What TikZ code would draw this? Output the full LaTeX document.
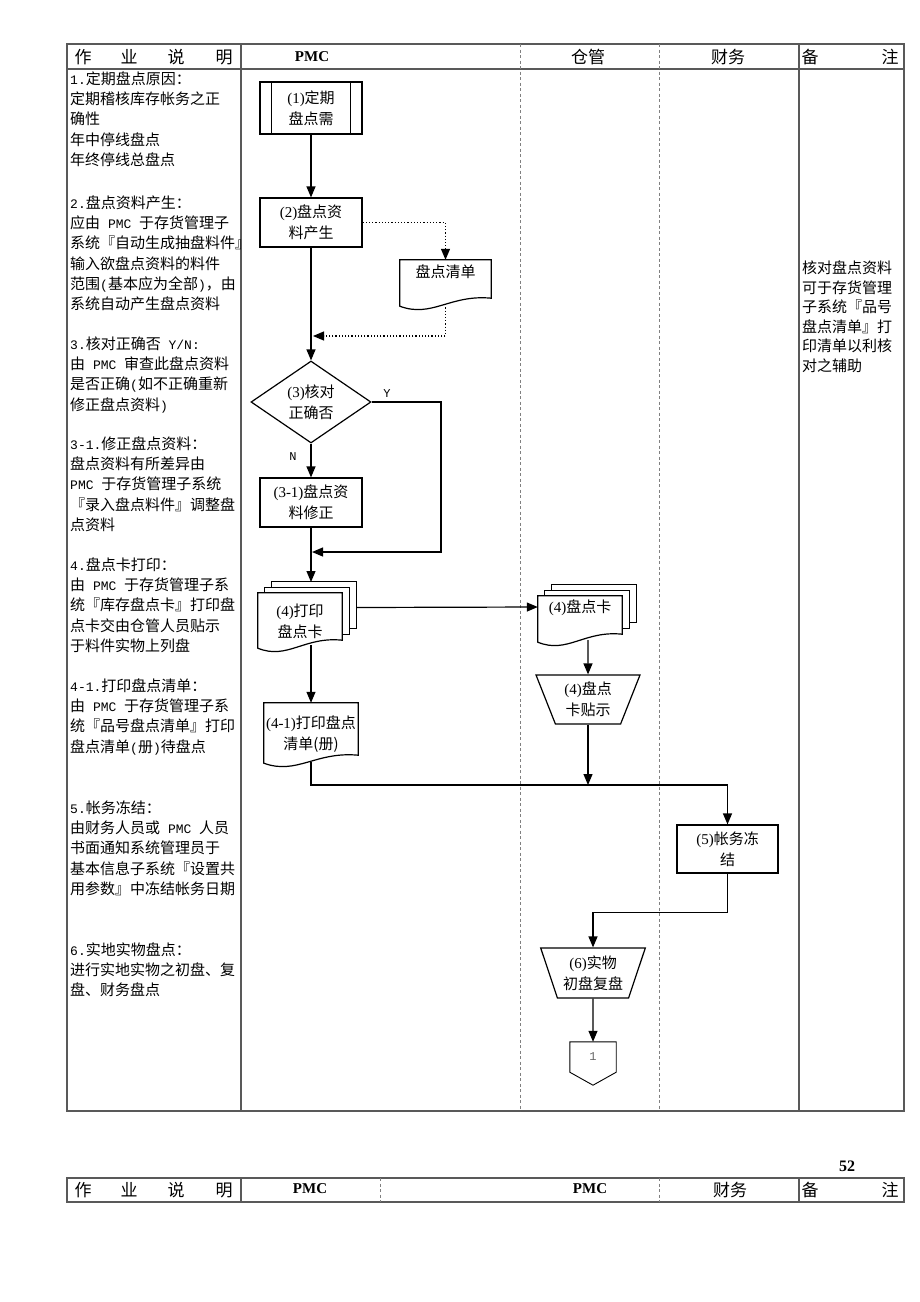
\documentclass[tikz,border=0pt]{standalone}
\usepackage{fontspec}
\setmainfont{Liberation Serif}
\newfontfamily\cjk{Noto Sans CJK SC}
\newfontfamily\mono{Liberation Mono}
\usetikzlibrary{arrows.meta,calc,positioning,shapes.geometric,backgrounds}

\newcommand\zh[1]{{\cjk #1}}
\newcommand\mn[1]{{\mono\fontsize{13}{20.24}\selectfont #1}}
\newcommand\flowfont{\fontsize{15}{21}\selectfont}

% document outline with a wavy bottom
\newcommand\docshape[1]{%
  \draw[flow, fill=white] ($(#1.south west)+(0,2pt)$) -- (#1.north west) -- (#1.north east) -- ($(#1.south east)+(0,10pt)$)
    .. controls ($(#1.south west)!0.55!(#1.south east)+(0,14pt)$) and ($(#1.south west)!0.35!(#1.south east)+(0,-10pt)$) .. ($(#1.south west)+(0,2pt)$) -- cycle;}
% three stacked documents
\newcommand\stackshape[1]{%
  \draw[flow, fill=white] ($(#1.north west)+(14pt,11pt)$) rectangle ($(#1.south east)+(14pt,22pt)$);
  \draw[flow, fill=white] ($(#1.north west)+(7pt,5.5pt)$) rectangle ($(#1.south east)+(7pt,16pt)$);
  \docshape{#1}}

\tikzset{
  frame/.style={draw=black!65, line width=1.2pt},
  lane/.style={draw=black!50, line width=0.7pt, dash pattern=on 3pt off 2.5pt},
  flow/.style={line width=1.2pt},
  arrow/.style={flow, -{Triangle[length=11pt,width=9pt]}},
  dotarrow/.style={arrow, dotted},
  procbox/.style={draw, flow, minimum width=102pt, minimum height=49pt, inner sep=1pt, align=center, font=\flowfont},
  docbox/.style={inner sep=2pt, align=center, font=\flowfont},
  decide/.style={draw, flow, diamond, shape aspect=1.5, minimum width=120pt, minimum height=82pt, inner sep=0pt, align=center, font=\flowfont},
  manual/.style={draw, flow, trapezium, shape border rotate=180, trapezium stretches=true, trapezium left angle=68, trapezium right angle=68, inner sep=0pt, align=center, font=\flowfont},
  head/.style={font=\cjk\fontsize{17}{17}\selectfont, inner sep=0pt},
  desc/.style={anchor=north west, align=left, inner sep=0pt, font=\cjk\fontsize{15}{20.24}\selectfont},
  tag/.style={font=\mono\fontsize{12}{12}\selectfont, inner sep=0pt},
}

\begin{document}
\begin{tikzpicture}[x=1pt, y=-1pt]
\def \xa{67}
\def \xb{241}
\def \xc{520}
\def \xd{659}
\def \xe{799}
\def \xf{904}

\def \ya{44}
\def \yb{69}
\def \yc{1111}
\def \yd{1178}
\def \ye{1202}

\useasboundingbox (0,0) rectangle (920,1302);

% table
\draw[frame] (\xa,\ya) rectangle (\xf,\yc);
\draw[frame] (\xa,\yb) -- (\xf,\yb);
\draw[frame] (\xb,\ya) -- (\xb,\yc);
\draw[frame] (\xe,\ya) -- (\xe,\yc);
\draw[lane] (\xc,\ya) -- (\xc,\yc);
\draw[lane] (\xd,\ya) -- (\xd,\yc);

% header of next page
\draw[frame] (\xa,\yd) rectangle (\xf,\ye);
\draw[frame] (\xb,\yd) -- (\xb,\ye);
\draw[frame] (\xe,\yd) -- (\xe,\ye);
\draw[lane] (380,\yd) -- (380,\ye);
\draw[lane] (\xd,\yd) -- (\xd,\ye);

\foreach \c/\x [count=\i] in {作/83,业/129,说/176,明/224} {
  \node[head] (top\i) at (\x,57) {\c};
  \node[head] (bot\i) at (\x,1190) {\c};
}
\node[font=\bfseries\fontsize{15}{15}\selectfont] (toppmc) at (312,57) {PMC};
\node[head] (topstore) at (588,57) {仓管};
\node[head] (topfin) at (728,57) {财务};
\node[head] (topbei) at (810,57) {备};
\node[head] (topzhu) at (890,57) {注};
\node[font=\bfseries\fontsize{15}{15}\selectfont] (botpmc) at (310,1189) {PMC};
\node[font=\bfseries\fontsize{15}{15}\selectfont] (botpmcb) at (590,1189) {PMC};
\node[head] (botfin) at (730,1190) {财务};
\node[head] (botbei) at (810,1190) {备};
\node[head] (botzhu) at (890,1190) {注};
\node[font=\bfseries\fontsize{16}{16}\selectfont] (pgno) at (847,1166) {52};

% description column
\node[desc] (d1) at (70,71.5) {\mn{1.}定期盘点原因：\\定期稽核库存帐务之正\\确性\\年中停线盘点\\年终停线总盘点};
\node[desc] (d2) at (70,195.5) {\mn{2.}盘点资料产生：\\应由\mn{ PMC }于存货管理子\\系统『自动生成抽盘料件』\\输入欲盘点资料的料件\\范围\mn{(}基本应为全部\mn{)}，由\\系统自动产生盘点资料};
\node[desc] (d3) at (70,336.5) {\mn{3.}核对正确否\mn{ Y/N:}\\由\mn{ PMC }审查此盘点资料\\是否正确\mn{(}如不正确重新\\修正盘点资料\mn{)}};
\node[desc] (d31) at (70,436.5) {\mn{3-1.}修正盘点资料：\\盘点资料有所差异由\\\mn{PMC }于存货管理子系统\\『录入盘点料件』调整盘\\点资料};
\node[desc] (d4) at (70,557.5) {\mn{4.}盘点卡打印：\\由\mn{ PMC }于存货管理子系\\统『库存盘点卡』打印盘\\点卡交由仓管人员贴示\\于料件实物上列盘};
\node[desc] (d41) at (70,678.5) {\mn{4-1.}打印盘点清单：\\由\mn{ PMC }于存货管理子系\\统『品号盘点清单』打印\\盘点清单\mn{(}册\mn{)}待盘点};
\node[desc] (d5) at (70,800.5) {\mn{5.}帐务冻结：\\由财务人员或\mn{ PMC }人员\\书面通知系统管理员于\\基本信息子系统『设置共\\用参数』中冻结帐务日期};
\node[desc] (d6) at (70,942.5) {\mn{6.}实地实物盘点：\\进行实地实物之初盘、复\\盘、财务盘点};

% remark column
\node[desc, font=\cjk\fontsize{15}{19.6}\selectfont] (rmk) at (802,260.5) {核对盘点资料\\可于存货管理\\子系统『品号\\盘点清单』打\\印清单以利核\\对之辅助};

% flow
\node[procbox, minimum height=52pt] (need) at (311,108) {(1)\zh{定期}\\\zh{盘点需}};
\draw[flow] ([xshift=12pt]need.north west) -- ([xshift=12pt]need.south west);
\draw[flow] ([xshift=-12pt]need.north east) -- ([xshift=-12pt]need.south east);

\node[procbox] (gen) at (311,222.5) {(2)\zh{盘点资}\\\zh{料产生}};
\node[docbox, minimum width=91pt, text height=15pt, text depth=29pt] (list) at (445.5,284) {\zh{盘点清单}};
\node[decide] (chk) at (311,402) {(3)\zh{核对}\\\zh{正确否}};
\node[procbox] (fix) at (311,502.5) {(3-1)\zh{盘点资}\\\zh{料修正}};
\node[docbox, minimum width=84pt, minimum height=57pt] (card) at (300,621.5) {(4)\zh{打印}\\\zh{盘点卡}};
\node[docbox, minimum width=84pt, text height=14.7pt, text depth=29.3pt] (scard) at (580,620) {(4)\zh{盘点卡}};
\node[manual, minimum width=104pt, minimum height=49pt] (post) at (588,699.5) {(4)\zh{盘点}\\\zh{卡贴示}};
\node[docbox, minimum width=94pt, minimum height=62pt] (lst) at (311,734) {(4-1)\zh{打印盘点}\\\zh{清单(册)}};
\node[procbox, minimum width=101pt, minimum height=48pt] (frz) at (727.5,849) {(5)\zh{帐务冻}\\\zh{结}};
\node[manual, minimum width=105pt, minimum height=50pt] (count) at (593,973) {(6)\zh{实物}\\\zh{初盘复盘}};
\node[tag, text=black!60, minimum width=46pt, minimum height=30pt] (page) at (593,1057) {1};
\draw[line width=0.9pt] (page.north west) -- (page.north east) -- (page.south east) -- ($(page.south)+(0,-13pt)$) -- (page.south west) -- cycle;

\begin{scope}[on background layer]
  \docshape{list}
  \stackshape{card}
  \stackshape{scard}
  \docshape{lst}
\end{scope}

\coordinate (join) at (313,336);
\coordinate (yturn) at (441,552);
\coordinate (merge) at (312,552);
\coordinate (cardtop) at (311,582);
\coordinate (bus) at (311,785);

\draw[arrow] (need) -- (gen);
\draw[dotarrow] (gen.east) -| (list.north);
\draw[dotarrow] ($(list.south)+(0,4pt)$) |- (join);
\draw[arrow] (gen) -- (chk);
\draw[arrow] (chk) -- (fix);
\draw[arrow] (chk.east) -| (yturn) -- (merge);
\node[tag] (ylbl) at (387,394) {Y};
\node[tag] (nlbl) at (293,457) {N};
\draw[arrow] (fix) -- (cardtop);
\draw[arrow] ($(card.east)+(14pt,14pt)$) -- ($(scard.west)+(0,13pt)$);
\draw[arrow] ($(scard.south)+(8pt,4pt)$) -- (post.north);
\draw[arrow] ($(card.south)+(11pt,5pt)$) -- (lst.north);
\draw[arrow] ($(lst.south)+(0,3pt)$) -- (bus) -| (frz.north);
\draw[arrow] (post.south) -- (post.south |- bus);
\draw[arrow] (frz.south) -- ++(0,-39pt) -| (count.north);
\draw[arrow] (count.south) -- (page.north);

\end{tikzpicture}
\end{document}
